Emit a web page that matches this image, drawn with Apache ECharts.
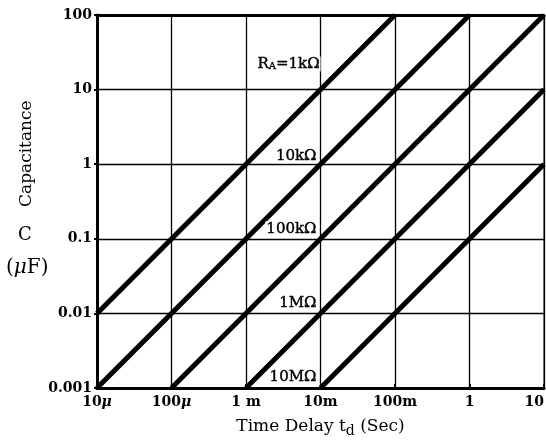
<!DOCTYPE html>
<html><head><meta charset="utf-8">
<script src="https://cdn.jsdelivr.net/npm/echarts@6/dist/echarts.min.js"></script>
<style>html,body{margin:0;padding:0;background:#fff;overflow:hidden;}#c{width:546px;height:445px;}</style>
</head><body><div id="c"></div>
<script>
// Tick values and labels
var xTicks = [1e-5, 1e-4, 1e-3, 1e-2, 1e-1, 1, 10];
var xTickLabels = ['10{mu|\u03bc}', '100{mu|\u03bc}', '1 m', '10m', '100m', '1', '10'];
var yTicks = [0.001, 0.01, 0.1, 1, 10, 100];
var yTickLabels = ['0.001', '0.01', '0.1', '1', '10', '100'];
// Resistor lines: [time (s), capacitance (uF)] endpoints
var line1k   = [[1e-5, 0.01], [1e-1, 100]];
var line10k  = [[1e-5, 0.001], [1, 100]];
var line100k = [[1e-4, 0.001], [10, 100]];
var line1M   = [[1e-3, 0.001], [10, 10]];
var line10M  = [[1e-2, 0.001], [10, 1]];
// Curve labels (anchor in data coords, text)
var labelNames = ['R{sub|A}=1k\u03a9', '10k\u03a9', '100k\u03a9', '1M\u03a9', '10M\u03a9'];
var labelAnchors = [[1.1e-2, 22], [1e-2, 1.3], [1e-2, 0.136], [1e-2, 0.0136], [1e-2, 0.0014]];

function fmtX(v){ var i = xTicks.findIndex(function(t){return Math.abs(Math.log10(t)-Math.log10(v))<1e-6;}); return i>=0?xTickLabels[i]:''; }
function fmtY(v){ var i = yTicks.findIndex(function(t){return Math.abs(Math.log10(t)-Math.log10(v))<1e-6;}); return i>=0?yTickLabels[i]:''; }

var font = 'DejaVu Serif';
var chart = echarts.init(document.getElementById('c'));
var lineStyle = {color:'#000', width:5};
function ls(d){ return {type:'line', data:d, symbol:'none', lineStyle:lineStyle, silent:true, z:3}; }
var labelData = labelAnchors.map(function(a,i){ return {value:a, name:labelNames[i]}; });
chart.setOption({
  animation:false,
  backgroundColor:'#fff',
  grid:{left:97, right:2, top:15, bottom:57, containLabel:false, outerBoundsMode:'none', show:true, borderColor:'#000', borderWidth:1},
  xAxis:[{
    type:'log', logBase:10, min:1e-5, max:10,
    axisLine:{show:true, lineStyle:{color:'#000', width:3}},
    axisTick:{show:true, inside:true, length:4, lineStyle:{color:'#000', width:2}},
    minorTick:{show:false},
    splitLine:{show:true, lineStyle:{color:'#000', width:1.3}},
    axisLabel:{formatter:fmtX, color:'#000', fontFamily:font, fontWeight:'bold', fontSize:14, margin:7, alignMaxLabel:'right',
      rich:{mu:{fontFamily:font, fontWeight:'bold', fontStyle:'italic', fontSize:14, color:'#000'}}},
    name:'Time Delay t{sub|d} (Sec)', nameLocation:'middle', nameGap:27,
    nameTextStyle:{color:'#000', fontFamily:font, fontSize:17, rich:{sub:{fontFamily:font, fontSize:14, color:'#000', padding:[9,0,0,0]}}}
  },{
    type:'log', logBase:10, min:1e-5, max:10, position:'top',
    axisLine:{show:true, lineStyle:{color:'#000', width:3}},
    axisTick:{show:false}, axisLabel:{show:false}, splitLine:{show:false}
  }],
  yAxis:{
    type:'log', logBase:10, min:0.001, max:100,
    axisLine:{show:true, lineStyle:{color:'#000', width:3}},
    axisTick:{show:true, length:3, lineStyle:{color:'#000', width:2}},
    splitLine:{show:true, lineStyle:{color:'#000', width:1.3}},
    axisLabel:{formatter:fmtY, color:'#000', fontFamily:font, fontWeight:'bold', fontSize:14, margin:5}
  },
  graphic:[
    {type:'text', x:18, y:207, rotation:Math.PI/2, style:{text:'Capacitance', font:'17px "DejaVu Serif"', fill:'#000'}},
    {type:'text', left:18, top:226, style:{text:'C', font:'18px "DejaVu Serif"', fill:'#000'}},
    {type:'text', left:6, top:258, style:{rich:{a:{font:'20px "DejaVu Serif"', fill:'#000'}, m:{font:'italic 20px "DejaVu Serif"', fill:'#000'}}, text:'{a|(}{m|\u03bc}{a|F)}'}}
  ],
  series:[
    ls(line1k), ls(line10k), ls(line100k), ls(line1M), ls(line10M),
    {type:'scatter', data:labelData, symbolSize:0, silent:true, z:5, itemStyle:{color:'#000', opacity:1},
     label:{show:true, position:'left', distance:3, color:'#000', opacity:1, fontFamily:font, fontSize:15,
       textBorderColor:'#000', textBorderWidth:0.4,
       formatter:function(p){return p.name;},
       rich:{sub:{fontFamily:font, fontSize:10, color:'#000', textBorderColor:'#000', textBorderWidth:0.3, padding:[5,0,0,0]}},
       backgroundColor:'#fff', padding:[0,1,0,1]}
    }
  ]
});
</script></body></html>
